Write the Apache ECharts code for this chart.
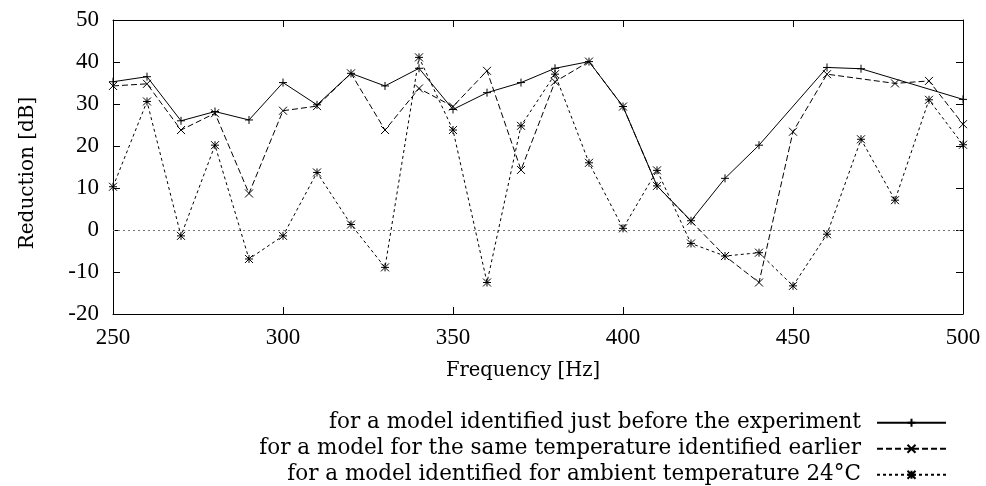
<!DOCTYPE html>
<html>
<head>
<meta charset="utf-8">
<script src="https://cdn.jsdelivr.net/npm/echarts@6/dist/echarts.min.js"></script>
<style>
html,body{margin:0;padding:0;background:#fff;}
#chart{width:986px;height:486px;}
</style>
</head>
<body>
<div id="chart"></div>
<script>
const freq = [250,260,270,280,290,300,310,320,330,340,350,360,370,380,390,400,410,420,430,440,450,460,470,480,490,500];
const justBefore = [35.3,36.5,26.0,28.2,26.2,35.1,29.8,37.3,34.3,38.5,28.7,32.7,35.1,38.5,40.1,29.4,10.5,2.2,12.3,20.2,null,38.7,38.4,null,null,31.1];
const sameTempEarlier = [34.3,34.8,23.8,27.8,8.7,28.4,29.5,37.3,23.8,33.7,29.4,37.9,14.3,35.3,40.1,29.4,10.5,2.1,-6.2,-12.5,23.4,37.1,null,34.9,35.5,25.2];
const ambient24 = [10.3,30.6,-1.4,20.2,-6.9,-1.4,13.7,1.3,-8.9,41.1,23.8,-12.5,24.8,37.1,16.0,0.4,14.2,-3.2,-6.2,-5.4,-13.3,-1.0,21.6,7.1,31.0,20.3];
const seriesNames = [
  'for a model identified just before the experiment',
  'for a model for the same temperature identified earlier',
  'for a model identified for ambient temperature 24\u00B0C'
];
const xTicks = {min: 250, max: 500, interval: 50};
const yTicks = {min: -20, max: 50, interval: 10};

const tickFont = 'Liberation Serif';
const textFont = 'DejaVu Serif';
const SYM_PLUS = 'path://M0,5L10,5M5,0L5,10';
const SYM_X = 'path://M0,0L10,10M10,0L0,10';
const SYM_STAR = 'path://M0,5L10,5M5,0L5,10M0,0L10,10M10,0L0,10';

function pairs(vals){ return freq.map((f,i)=>[f, vals[i]]); }

const chart = echarts.init(document.getElementById('chart'), null, {renderer:'canvas'});

const axisLine = {show:true, onZero:false, lineStyle:{color:'#000', width:1}};
const axisTick = {show:true, inside:true, length:7, lineStyle:{color:'#000', width:1}};

function mkSeries(name, vals, sym, dash){
  return {
    name: name,
    type: 'line',
    data: pairs(vals),
    connectNulls: true,
    symbol: sym,
    symbolSize: 8,
    showSymbol: true,
    lineStyle: {color:'#000', width:1, type: dash},
    itemStyle: {color:'#000', borderColor:'#000', borderWidth:1},
    emphasis: {disabled:true},
    z: 3
  };
}

const s3 = mkSeries(seriesNames[2], ambient24, SYM_STAR, [3,3]);
s3.markLine = {
  silent: true,
  symbol: 'none',
  label: {show:false},
  lineStyle: {color:'#777', width:1, type:[2,3]},
  data: [{yAxis: 0}],
  z: 1
};

chart.setOption({
  animation: false,
  backgroundColor: '#fff',
  grid: {left:113, right:23, top:20, bottom:172, containLabel:false},
  xAxis: [
    {
      type:'value', min:xTicks.min, max:xTicks.max, interval:xTicks.interval, position:'bottom',
      axisLine: axisLine, axisTick: axisTick, splitLine:{show:false},
      axisLabel: {color:'#000', fontFamily:tickFont, fontSize:23, margin:12},
      name: 'Frequency [Hz]', nameLocation:'middle', nameGap:47,
      nameTextStyle: {color:'#000', fontFamily:textFont, fontSize:19.5, padding:[0,30,0,0]}
    },
    {
      type:'value', min:xTicks.min, max:xTicks.max, interval:xTicks.interval, position:'top',
      axisLine: axisLine, axisTick: axisTick, splitLine:{show:false},
      axisLabel: {show:false}
    }
  ],
  yAxis: [
    {
      type:'value', min:yTicks.min, max:yTicks.max, interval:yTicks.interval, position:'left',
      axisLine: axisLine, axisTick: axisTick, splitLine:{show:false},
      axisLabel: {color:'#000', fontFamily:tickFont, fontSize:23, margin:14},
      name: 'Reduction [dB]', nameLocation:'middle', nameGap:75, nameRotate:90,
      nameTextStyle: {color:'#000', fontFamily:textFont, fontSize:20, padding:[0,12,0,0]}
    },
    {
      type:'value', min:yTicks.min, max:yTicks.max, interval:yTicks.interval, position:'right',
      axisLine: axisLine, axisTick: axisTick, splitLine:{show:false},
      axisLabel: {show:false}
    }
  ],
  legend: {
    orient: 'vertical',
    right: 39,
    top: 410.5,
    height: 90,
    padding: 0,
    align: 'right',
    itemWidth: 69,
    itemHeight: 10,
    itemGap: 1.5,
    selectedMode: false,
    textStyle: {color:'#000', fontFamily:textFont, fontSize:21.5, lineHeight:24.5, padding:[0,11,0,0]},
    data: seriesNames
  },
  series: [
    mkSeries(seriesNames[0], justBefore, SYM_PLUS, 'solid'),
    mkSeries(seriesNames[1], sameTempEarlier, SYM_X, [6,3]),
    s3
  ]
});
</script>
</body>
</html>
